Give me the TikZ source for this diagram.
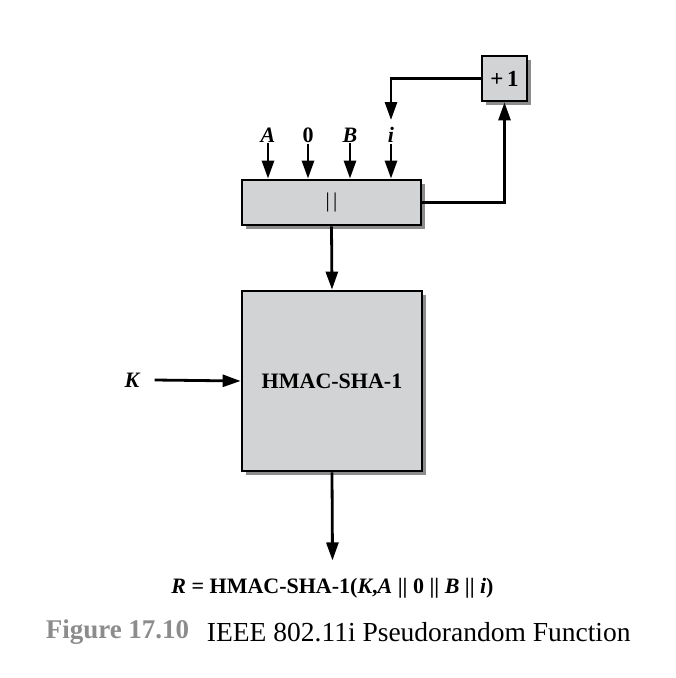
\documentclass[tikz,border=0pt]{standalone}
\usepackage{fontspec}
\setmainfont{Liberation Serif}
\usepackage{xcolor}
\usepackage{tikz}
\usetikzlibrary{positioning}
\usetikzlibrary{shadows}
\usetikzlibrary{arrows.meta}
\usetikzlibrary{calc}

\definecolor{boxgray}{HTML}{D1D3D4}
\definecolor{capgray}{HTML}{8C8C8C}

\begin{document}
\begin{tikzpicture}
  [
    x=1pt, y=-1pt,
    blk/.style={
      draw=black,
      fill=boxgray,
      line width=2.8pt,
      inner sep=0pt,
      drop shadow={shadow xshift=4pt, shadow yshift=-4pt, opacity=0.45, fill=black}
    },
    lbl/.style={font=\fontsize{22}{24}\selectfont\bfseries\itshape, inner sep=1pt},
    ar/.style={line width=2.8pt, -{Triangle[length=18pt,width=12pt]}}
  ]
  \useasboundingbox (0,0) rectangle (676,678);

  \node (cat) at (331.5,202.5) [blk, minimum width=179pt, minimum height=45pt]
        {\fontsize{21}{24}\selectfont\textbar\,\textbar};
  \node (plus) at (504.5,78.5) [blk, minimum width=45pt, minimum height=45pt]
        {\fontsize{23}{24}\selectfont\bfseries +\,1};
  \node (hmac) at (332,381) [blk, minimum width=180pt, minimum height=180pt]
        {\fontsize{22}{24}\selectfont\bfseries HMAC-SHA-1};

  \node (inA) at (268,135) [lbl] {A};
  \node (in0) at (308,135) [lbl] {\upshape 0};
  \node (inB) at (350,135) [lbl] {B};
  \node (inI) at (391,135) [lbl] {i};
  \node (K) at (132,380) [lbl] {K};

  \node (R) at (332.5,588) {\fontsize{22}{24}\selectfont\bfseries
        \textit{R} = HMAC-SHA-1(\textit{K},\textit{A} \textbar\textbar\ 0 \textbar\textbar\ \textit{B} \textbar\textbar\ \textit{i})};
  \node (fig) at (117.5,632) {\fontsize{27}{30}\selectfont\bfseries\color{capgray} Figure 17.10};
  \node (cap) [right=14pt of fig.east, anchor=west, inner sep=0pt]
        {\fontsize{27.5}{30}\selectfont IEEE 802.11i Pseudorandom Function};

  \coordinate (iTop) at (391,120);

  % inputs
  \foreach \n in {inA,in0,inB,inI}
    \draw [ar] (\n.south) -- (\n |- cat.north);

  % feedback loop
  \draw [ar] (cat.east) -| (plus.south);
  \draw [ar] (plus.west) -| (iTop);

  \draw [ar] (cat.south) -- (hmac.north);
  \draw [ar] (K.east) ++(14pt,0) -- (hmac.west);
  \draw [ar] (hmac.south) -- ($(R.north)+(0,-14)$);

\end{tikzpicture}
\end{document}
